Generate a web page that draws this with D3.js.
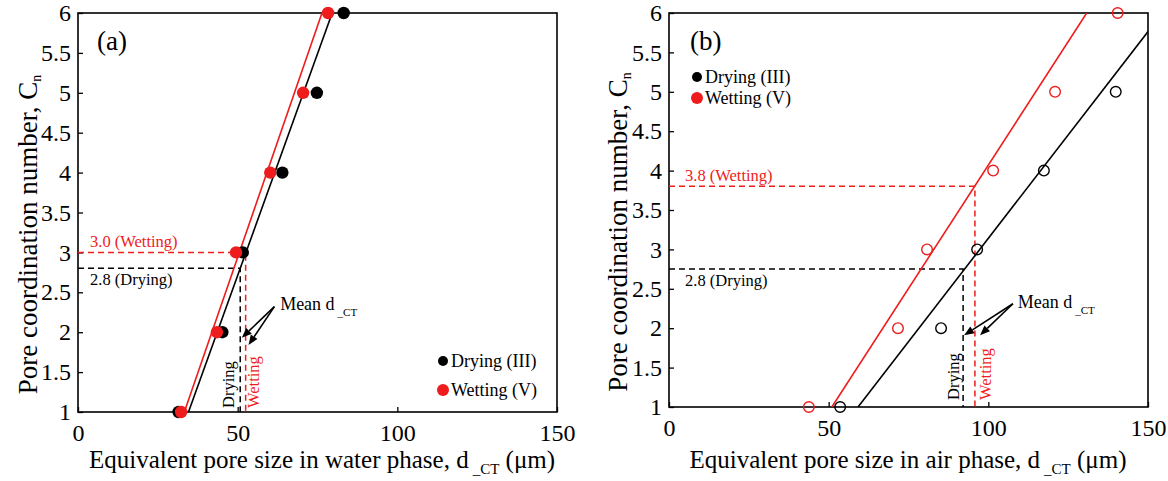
<!DOCTYPE html>
<html><head><meta charset="utf-8">
<script src="https://cdn.jsdelivr.net/npm/d3@7"></script>
<style>
body{margin:0;background:#fff}
svg{display:block}
</style>
</head><body>
<svg id="c" width="1168" height="481"></svg>
<script>
// ---------- data ----------
const xTicks = [0, 50, 100, 150];
const yTicks = [1, 1.5, 2, 2.5, 3, 3.5, 4, 4.5, 5, 5.5, 6];
const seriesNames = ["Drying (III)", "Wetting (V)"];

// panel (a): water phase
const aDryCn = [1, 2, 3, 4, 5, 6];
const aDryX  = [31.5, 45.2, 51.6, 64.0, 74.8, 83.2];
const aWetCn = [1, 2, 3, 4, 5, 6];
const aWetX  = [32.3, 43.5, 49.5, 60.2, 70.5, 78.3];
const aDryFit = [[34.6, 1], [79.6, 6]];
const aWetFit = [[33.3, 1], [76.4, 6]];
const aMeanX  = [50.8, 52.5];     // drying, wetting mean d_CT
const aMeanCn = [2.8, 3.0];
const aMeanLabels = ["2.8 (Drying)", "3.0 (Wetting)"];

// panel (b): air phase
const bDryCn = [1, 2, 3, 4, 5];
const bDryX  = [53.6, 85.2, 96.5, 117.4, 139.9];
const bWetCn = [1, 2, 3, 4, 5, 6];
const bWetX  = [43.8, 71.7, 80.8, 101.5, 120.9, 140.5];
const bDryFit = [[59.2, 1], [154.5, 6]];
const bWetFit = [[51.0, 1], [130.8, 6]];
const bMeanX  = [92.1, 95.8];
const bMeanCn = [2.75, 3.8];
const bMeanLabels = ["2.8 (Drying)", "3.8 (Wetting)"];

// ---------- drawing ----------
const FONT = '"Liberation Serif", "Times New Roman", serif';
const svg = d3.select("#c");
const RED = "#ee1c1c", BLK = "#000";

function drawPanel(cfg) {
  const g = svg.append("g");
  const x = d3.scaleLinear().domain([0, 150]).range(cfg.xr);
  const y = d3.scaleLinear().domain([1, 6]).range(cfg.yr);
  const L = cfg.xr[0], R = cfg.xr[1], T = cfg.yr[1], B = cfg.yr[0];

  const cid = "clip" + cfg.key;
  svg.append("clipPath").attr("id", cid).append("rect")
    .attr("x", L).attr("y", T).attr("width", R - L).attr("height", B - T);

  // axes
  const ax = g.append("g").attr("transform", `translate(0,${B})`)
    .call(d3.axisBottom(x).tickValues(xTicks).tickSizeInner(-5).tickSizeOuter(0)
      .tickPadding(12).tickFormat(d3.format("d")));
  const ay = g.append("g").attr("transform", `translate(${L},0)`)
    .call(d3.axisLeft(y).tickValues(yTicks).tickSizeInner(-5).tickSizeOuter(0)
      .tickPadding(7).tickFormat(d => String(d)));
  [ax, ay].forEach(a => {
    a.select(".domain").remove();
    a.attr("font-family", null).attr("font-size", null);
    a.selectAll("line").attr("stroke", BLK).attr("stroke-width", 1.3);
    a.selectAll("text").attr("fill", BLK).style("font-size", "24px");
  });

  // frame
  g.append("rect").attr("x", L).attr("y", T).attr("width", R - L).attr("height", B - T)
    .attr("fill", "none").attr("stroke", BLK).attr("stroke-width", 1.6);

  // dashed mean lines
  const dcol = [BLK, RED];
  cfg.meanX.forEach((mx, i) => {
    const c = cfg.meanCn[i];
    g.append("path")
      .attr("d", d3.line()([[L, y(c)], [x(mx), y(c)], [x(mx), B]]))
      .attr("fill", "none").attr("stroke", dcol[i]).attr("stroke-width", 1.5)
      .attr("stroke-dasharray", "6,4");
  });
  // mean labels
  cfg.meanLabels.forEach((t, i) => {
    g.append("text").attr("x", L + cfg.labX)
      .attr("y", y(cfg.meanCn[i]) + cfg.labDy[i])
      .style("font-size", "16.5px").attr("fill", dcol[i]).text(t);
  });

  // fit lines
  const line = d3.line().x(d => x(d[0])).y(d => y(d[1]));
  [cfg.dryFit, cfg.wetFit].forEach((f, i) => {
    g.append("path").attr("d", line(f)).attr("clip-path", `url(#${cid})`)
      .attr("fill", "none").attr("stroke", dcol[i]).attr("stroke-width", 1.6);
  });

  // points
  const pts = (xs, cs, col) => xs.map((v, i) => ({ x: v, c: cs[i], col }));
  const all = [...pts(cfg.dryX, cfg.dryCn, BLK), ...pts(cfg.wetX, cfg.wetCn, RED)];
  g.selectAll("circle.pt").data(all).join("circle").attr("class", "pt")
    .attr("cx", d => x(d.x)).attr("cy", d => y(d.c)).attr("r", cfg.filled ? 6.2 : 5.3)
    .attr("fill", d => cfg.filled ? d.col : "none")
    .attr("stroke", d => cfg.filled ? "none" : d.col).attr("stroke-width", 1.4);

  // rotated Drying / Wetting labels
  [["Drying", BLK], ["Wetting", RED]].forEach(([t, col], i) => {
    g.append("text")
      .attr("transform", `translate(${x(cfg.meanX[i]) + cfg.rotDx[i]},${B - cfg.rotDy}) rotate(-90)`)
      .style("font-size", "16.5px").attr("fill", col).text(t);
  });

  // Mean d_CT annotation with arrows
  const mt = g.append("text").attr("x", x(cfg.meanText[0])).attr("y", y(cfg.meanText[1]))
    .style("font-size", "18px").attr("fill", BLK);
  mt.append("tspan").text("Mean d");
  mt.append("tspan").style("font-size", "11px").attr("dx", 3).attr("dy", 6).text("_CT");
  cfg.arrowTo.forEach(p => {
    const x0 = x(cfg.arrowFrom[0]), y0 = y(cfg.arrowFrom[1]);
    const x1 = x(p[0]), y1 = y(p[1]);
    const ang = Math.atan2(y1 - y0, x1 - x0);
    const hl = 10, hw = 4;
    const bx = x1 - hl * Math.cos(ang), by = y1 - hl * Math.sin(ang);
    g.append("line").attr("x1", x0).attr("y1", y0).attr("x2", bx).attr("y2", by)
      .attr("stroke", BLK).attr("stroke-width", 1.6);
    g.append("path").attr("d", d3.line()([
      [x1, y1],
      [bx + hw * Math.sin(ang), by - hw * Math.cos(ang)],
      [bx - hw * Math.sin(ang), by + hw * Math.cos(ang)]
    ]) + "Z").attr("fill", BLK);
  });

  // panel tag
  g.append("text").attr("x", L + cfg.tag[1]).attr("y", T + cfg.tag[2])
    .style("font-size", "27px").attr("fill", BLK).text(cfg.tag[0]);

  // legend
  seriesNames.forEach((n, i) => {
    const ly = cfg.leg[1] + i * cfg.leg[2];
    g.append("circle").attr("cx", cfg.leg[0]).attr("cy", ly).attr("r", i ? 6 : 5)
      .attr("fill", i ? RED : BLK);
    g.append("text").attr("x", cfg.leg[0] + 8).attr("y", ly + 6)
      .style("font-size", cfg.leg[3] + "px").attr("fill", BLK).text(n);
  });

  // axis titles
  const yt = svg.append("text")
    .attr("transform", `translate(${cfg.ytX},${(T + B) / 2 + 22}) rotate(-90)`)
    .attr("text-anchor", "middle").style("font-size", "27px").attr("fill", BLK);
  yt.append("tspan").text("Pore coordination number, C");
  yt.append("tspan").style("font-size", "14px").attr("dy", 4).text("n");

  const xt = svg.append("text").attr("x", cfg.xtX).attr("y", 468)
    .attr("text-anchor", "middle").style("font-size", "25px").attr("fill", BLK);
  xt.append("tspan").text(cfg.xTitle + " d");
  xt.append("tspan").style("font-size", "15px").attr("dx", 4).attr("dy", 6).text("_CT");
  xt.append("tspan").attr("dy", -6).text(" (\u03bcm)");
}

drawPanel({
  key: "a", xr: [78, 557], yr: [412, 13], filled: true,
  dryX: aDryX, dryCn: aDryCn, wetX: aWetX, wetCn: aWetCn,
  dryFit: aDryFit, wetFit: aWetFit,
  meanX: aMeanX, meanCn: aMeanCn, meanLabels: aMeanLabels, labX: 12, labDy: [17, -5],
  rotDx: [-6, 13], rotDy: 4,
  meanText: [63.3, 2.28], arrowFrom: [61.5, 2.32], arrowTo: [[51.3, 1.93], [53.4, 1.84]],
  tag: ["(a)", 19, 37], leg: [443, 361, 29, 18],
  ytX: 37, xtX: 322, xTitle: "Equivalent pore size in water phase,"
});

drawPanel({
  key: "b", xr: [669, 1148], yr: [407, 13], filled: false,
  dryX: bDryX, dryCn: bDryCn, wetX: bWetX, wetCn: bWetCn,
  dryFit: bDryFit, wetFit: bWetFit,
  meanX: bMeanX, meanCn: bMeanCn, meanLabels: bMeanLabels, labX: 16, labDy: [17, -5],
  rotDx: [-4, 16], rotDy: 7,
  meanText: [109.2, 2.26], arrowFrom: [107.7, 2.31], arrowTo: [[92.4, 1.91], [97.4, 1.91]],
  tag: ["(b)", 21, 37], leg: [697, 77, 21, 18],
  ytX: 627, xtX: 908, xTitle: "Equivalent pore size in air phase,"
});

svg.selectAll("text").style("font-family", FONT);
</script>
</body></html>
